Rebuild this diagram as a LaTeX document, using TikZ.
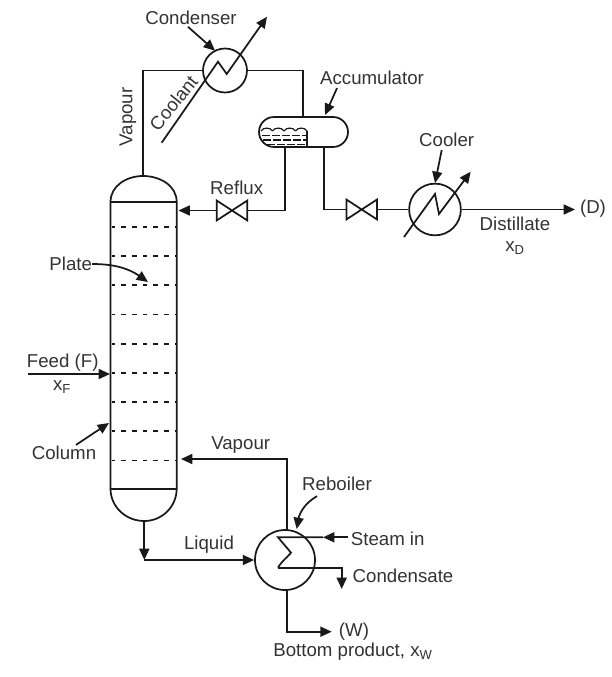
\documentclass[tikz,border=0pt]{standalone}
\usepackage{fontspec}
\setmainfont{Liberation Sans}
\usepackage{xcolor}
\usetikzlibrary{calc,arrows.meta,shapes.misc}
\definecolor{ink}{gray}{0.1}
\definecolor{labelink}{gray}{0.2}
\tikzset{
    pipe/.style={draw=ink, line width=1.3pt},
    flow/.style={pipe, -{Triangle[length=8.5pt,width=7.5pt]}},
    exchanger/.style={circle, pipe, inner sep=0pt},
    valve/.style={inner sep=0pt, minimum width=22.5pt, minimum height=14.5pt},
    lbl/.style={text=labelink, inner sep=0pt, font=\fontsize{14}{16}\selectfont},
}
\begin{document}
\begin{tikzpicture}[x=0.75pt,y=-0.75pt]
        \useasboundingbox (0,0) rectangle (611,677);

        % column
        \coordinate (coltop) at (143,176);
        \coordinate (colbot) at (144.3,521);
        \coordinate (tl) at (110.5,202);
        \coordinate (tr) at (176.7,202);
        \coordinate (bl) at (110.5,488.7);
        \coordinate (br) at (176.7,488.7);
        \draw[pipe] (tl) to[out=90,in=180] (coltop) to[out=0,in=90] (tr)
            -- (br) to[out=270,in=0] (colbot) to[out=180,in=270] (bl) -- cycle;
        \draw[pipe] (tl) -- (tr);
        \draw[pipe] (bl) -- (br);
        \foreach \p in {0,...,8} {
            \draw[pipe, dash pattern=on 3.6pt off 4.4pt, dash phase=1pt]
                (112,226.9+29.2*\p) -- (176,226.9+29.2*\p);
        }

        % exchangers
        \node[exchanger, minimum size=33pt] (condenser) at (225,70.5) {};
        \node[exchanger, minimum size=38.8pt] (cooler) at (435,209.5) {};
        \node[exchanger, minimum size=45pt] (reboiler) at (285,560) {};

        % accumulator
        \node[rounded rectangle, pipe, inner sep=0pt, minimum width=66.75pt, minimum height=22.5pt]
            (accumulator) at (303.5,132) {};
        \coordinate (accin) at (302.7,117);
        \coordinate (accreflux) at (285,147);
        \coordinate (accout) at (324,147);
        \foreach \x in {261,272.5,284,295.5} {
            \draw[ink, line width=0.9pt] (\x,131) to[out=60,in=120] (\x+11.5,131);
        }
        \draw[pipe] (307,131) -- (307,147);
        \begin{scope}[line width=1pt, draw=ink]
            \draw[dash pattern=on 6pt off 1.5pt] (262,135.5) -- (307,135.5);
            \draw[dash pattern=on 6pt off 1.5pt] (263,140) -- (307,140);
            \draw[dash pattern=on 6pt off 1.5pt] (267,144.5) -- (307,144.5);
        \end{scope}

        % valves
        \node[valve] (refluxvalve) at (232,210.5) {};
        \node[valve] (coolervalve) at (361.7,209.5) {};
        \foreach \v in {refluxvalve,coolervalve} {
            \draw[pipe] (\v.north west) -- (\v.south east) -- (\v.north east)
                -- (\v.south west) -- cycle;
        }

        % overhead
        \coordinate (refluxin) at (178.5,210.5);
        \draw[pipe] (coltop) -- (coltop |- condenser.west) -- (condenser.west);
        \draw[pipe] (condenser.east) -- (accin |- condenser.east) -- (accin);
        \draw[pipe] (accreflux) |- (refluxvalve.east);
        \draw[flow] (refluxvalve.west) -- (refluxin);
        \draw[pipe] (accout) |- (coolervalve.west);
        \draw[pipe] (coolervalve.east) -- (cooler.west);
        \coordinate (dout) at (575,209.5);
        \draw[flow] (cooler.east) -- (dout);

        % coils
        \coordinate (c0) at (161.7,142.7);
        \coordinate (c1) at (218,61.7);
        \coordinate (c2) at (226.7,74);
        \coordinate (c3) at (267,16.7);
        \draw[flow] (c0) -- (c1) -- (c2) -- (c3);
        \coordinate (k0) at (404,237);
        \coordinate (k1) at (435,194);
        \coordinate (k2) at (439,214);
        \coordinate (k3) at (470.7,171.7);
        \draw[flow] (k0) -- (k1) -- (k2) -- (k3);

        % reboiler
        \coordinate (r1) at (278,537.3);
        \coordinate (r2) at (291,552.7);
        \coordinate (r3) at (278,567.7);
        \coordinate (steam) at (348,537.3);
        \coordinate (steammid) at (323,537.3);
        \coordinate (conddrop) at (341.7,589);
        \coordinate (vapin) at (181,459);
        \coordinate (rebtop) at (286.7,529.5);
        \coordinate (rebbot) at (286.7,590);
        \coordinate (wout) at (331.7,631.7);
        \coordinate (liqturn) at (144.3,560);
        \draw[flow] (steam) -- (steammid);
        \draw[pipe] (steammid) -- (r1) to[out=-50,in=130] (r2) to[out=230,in=60] (r3);
        \draw[flow] (r3) -| (conddrop);
        \draw[flow] (rebtop) |- (vapin);
        \draw[flow] (rebbot) |- (wout);
        \draw[flow] (colbot) -- (liqturn);
        \draw[flow] (liqturn) -- (reboiler.west);

        % feed
        \coordinate (feedin) at (28,374);
        \coordinate (feedtip) at (110,374);
        \draw[flow] (feedin) -- (feedtip);

        % labels
        \node[lbl] (lcondenser) at (191,17.7) {Condenser};
        \node[lbl] (lcooler) at (446.7,140) {Cooler};
        \node[lbl] (laccum) at (372,78) {Accumulator};
        \node[lbl] (lreflux) at (236.7,188) {Reflux};
        \node[lbl, rotate=90] (lvapour) at (128,117) {Vapour};
        \node[lbl, rotate=51] (lcoolant) at (173.5,103) {Coolant};
        \node[lbl] (ldist) at (515,224) {Distillate};
        \node[lbl] (lxd) at (515,248) {x\textsubscript{D}};
        \node[lbl] (ld) at (593,209) {(D)};
        \node[lbl] (lplate) at (70.7,264) {Plate};
        \node[lbl] (lfeed) at (62.7,362.7) {Feed (F)};
        \node[lbl] (lxf) at (62,387) {x\textsubscript{F}};
        \node[lbl] (lcolumn) at (64,453) {Column};
        \node[lbl] (lvapin) at (240.7,445) {Vapour};
        \node[lbl] (lreb) at (337,484) {Reboiler};
        \node[lbl] (lsteam) at (387.7,539) {Steam in};
        \node[lbl] (lcond) at (403,575.7) {Condensate};
        \node[lbl] (lliq) at (209,545) {Liquid};
        \node[lbl] (lw) at (354,631.7) {(W)};
        \node[lbl] (lbot) at (353,651.5) {Bottom product, x\textsubscript{W}};

        % pointers
        \coordinate (pc) at (215,50.7);
        \coordinate (pk) at (435,183);
        \coordinate (pa) at (325,115);
        \coordinate (pp) at (148,282);
        \coordinate (pl) at (109,423);
        \coordinate (pr) at (296.7,529);
        \draw[flow] ($(lcondenser.south)+(-3,2)$) -- (pc);
        \draw[flow] ($(lcooler.south)+(-5,3)$) -- (pk);
        \draw[flow] ($(laccum.south)+(-35,3)$) -- (pa);
        \draw[flow] (lplate.east) to[out=0,in=145] (pp);
        \draw[flow] ($(lcolumn.north)+(12,-1)$) -- (pl);
        \draw[flow] ($(lreb.south)+(-20,5)$) to[out=210,in=80] (pr);
    \end{tikzpicture}
\end{document}
